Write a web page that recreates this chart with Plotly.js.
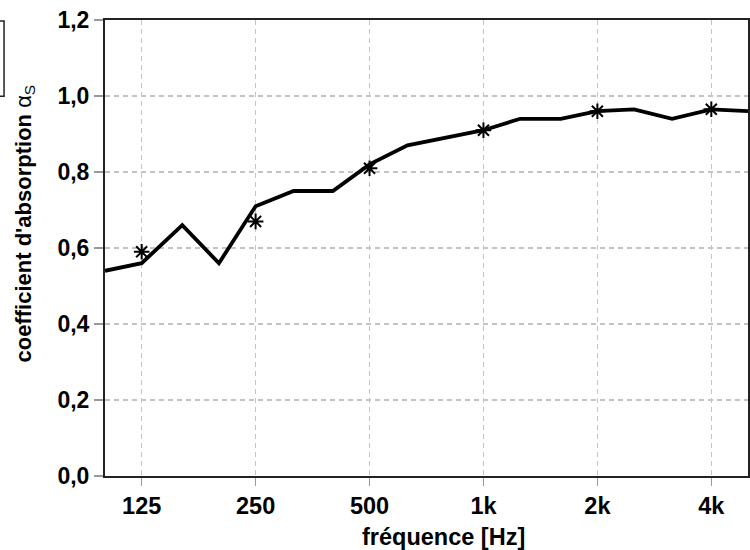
<!DOCTYPE html>
<html>
<head>
<meta charset="utf-8">
<script src="https://cdn.plot.ly/plotly-3.0.1.min.js"></script>
<style>html,body{margin:0;padding:0;background:#fff;}#chart{width:750px;height:550px;}</style>
</head>
<body>
<div id="chart"></div>
<script>
// third-octave band frequencies [Hz]
const freqThird = [100,125,160,200,250,315,400,500,630,800,1000,1250,1600,2000,2500,3150,4000,5000];
const alphaThird = [0.54,0.56,0.66,0.56,0.71,0.75,0.75,0.82,0.87,0.89,0.91,0.94,0.94,0.96,0.965,0.94,0.965,0.96];
// octave band values (stars)
const freqOct = [125,250,500,1000,2000,4000];
const alphaOct = [0.59,0.67,0.81,0.91,0.96,0.965];
const xTickVals = [125,250,500,1000,2000,4000];
const xTickText = ['125','250','500','1k','2k','4k'];
const yTickVals = [0,0.2,0.4,0.6,0.8,1.0,1.2];

const fontFam = 'Liberation Sans, Arial, sans-serif';

const traces = [
  {x: freqThird, y: alphaThird, mode: 'lines', type: 'scatter',
   line: {color: '#000', width: 3.8}, hoverinfo: 'skip', showlegend: false},
  {x: freqOct, y: alphaOct, mode: 'markers', type: 'scatter',
   marker: {symbol: 'asterisk-open', size: 13, color: '#000', line: {color: '#000', width: 2}},
   showlegend: false}
];

const layout = {
  width: 750, height: 550,
  margin: {l: 105, r: 2, t: 20, b: 74},
  paper_bgcolor: '#fff', plot_bgcolor: '#fff',
  separators: ',.',
  font: {family: fontFam, color: '#000'},
  xaxis: {
    type: 'log', range: [Math.log10(100), Math.log10(5000)],
    tickvals: xTickVals, ticktext: xTickText,
    tickfont: {size: 23.5, weight: 'bold', family: fontFam},
    ticks: 'outside', ticklen: 8, tickwidth: 1.5, tickcolor: '#999',
    showgrid: true, gridcolor: '#c4c4c4', gridwidth: 1.5, griddash: '5px,4px',
    showline: true, linecolor: '#222', linewidth: 2, mirror: true,
    zeroline: false, fixedrange: true
  },
  yaxis: {
    range: [0, 1.2], tickvals: yTickVals, tickformat: '.1f',
    tickfont: {size: 23, weight: 'bold', family: fontFam},
    ticks: 'outside', ticklen: 9, tickwidth: 1.5, tickcolor: '#999',
    showgrid: true, gridcolor: '#c4c4c4', gridwidth: 1.5, griddash: '5px,4px',
    showline: true, linecolor: '#222', linewidth: 2, mirror: true,
    zeroline: false, fixedrange: true
  },
  annotations: [
    {text: 'fréquence [Hz]', xref: 'paper', yref: 'paper', x: 0.527, y: -0.1,
     xanchor: 'center', yanchor: 'top', showarrow: false,
     font: {size: 23.5, weight: 'bold', family: fontFam, color: '#000'}},
    {text: "coefficient d'absorption <span style='font-weight:normal'>α<sub>S</sub></span>",
     xref: 'paper', yref: 'paper', x: -0.125, y: 0.553, textangle: -90,
     xanchor: 'center', yanchor: 'middle', showarrow: false,
     font: {size: 22, weight: 'bold', family: fontFam, color: '#000'}}
  ],
  shapes: [
    {type: 'rect', xref: 'paper', yref: 'paper', x0: -0.3, x1: -0.157, y0: 0.833, y1: 0.998,
     line: {color: '#222', width: 1.5}, fillcolor: 'rgba(0,0,0,0)'}
  ]
};

Plotly.newPlot('chart', traces, layout, {displayModeBar: false, staticPlot: true});
</script>
</body>
</html>
